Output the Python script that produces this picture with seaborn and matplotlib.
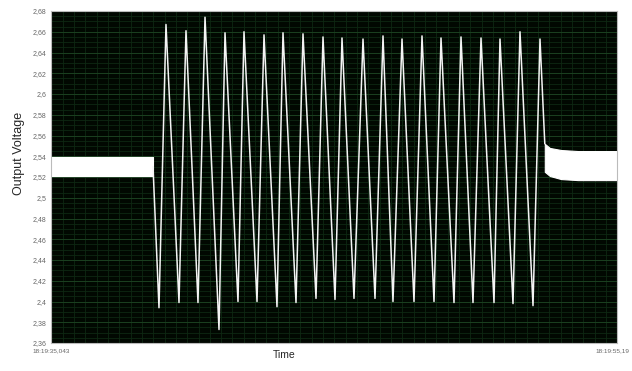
import numpy as np
import pandas as pd
import matplotlib
matplotlib.use("Agg")
import matplotlib.pyplot as plt
import matplotlib.transforms as mtransforms
import seaborn as sns
from matplotlib.ticker import MultipleLocator

# time axis (seconds past 18:19)
t_start = 35.043
t_end = 55.19

# noisy baseline before the pulses
left_band_t = [35.043, 38.674]
left_band_low = [2.5214, 2.5214]
left_band_high = [2.539, 2.539]

# noisy baseline after the pulses
right_band_t = [52.62, 52.80, 53.20, 53.80, 55.19]
right_band_low = [2.525, 2.521, 2.518, 2.517, 2.517]
right_band_high = [2.552, 2.548, 2.546, 2.545, 2.545]

# pulse train: troughs and peaks
trough_t = [38.887, 39.599, 40.275, 41.023, 41.699, 42.376, 43.087, 43.764, 44.476, 45.152,
            45.828, 46.576, 47.216, 47.964, 48.676, 49.388, 50.064, 50.812, 51.488, 52.200]
trough_v = [2.394, 2.399, 2.399, 2.373, 2.400, 2.400, 2.395, 2.399, 2.403, 2.402,
            2.403, 2.403, 2.400, 2.400, 2.400, 2.399, 2.399, 2.399, 2.398, 2.396]
peak_t = [39.136, 39.848, 40.525, 41.237, 41.913, 42.625, 43.301, 44.013, 44.725, 45.401,
          46.149, 46.861, 47.537, 48.249, 48.925, 49.637, 50.349, 51.025, 51.737, 52.449]
peak_v = [2.667, 2.661, 2.674, 2.659, 2.660, 2.657, 2.659, 2.658, 2.655, 2.654,
          2.653, 2.656, 2.653, 2.656, 2.654, 2.655, 2.654, 2.653, 2.660, 2.653]

yticks = [2.36, 2.38, 2.4, 2.42, 2.44, 2.46, 2.48, 2.5, 2.52, 2.54, 2.56, 2.58, 2.6, 2.62, 2.64, 2.66, 2.68]
ytick_labels = ["2,36", "2,38", "2,4", "2,42", "2,44", "2,46", "2,48", "2,5", "2,52", "2,54",
                "2,56", "2,58", "2,6", "2,62", "2,64", "2,66", "2,68"]
xtick_labels = ["18:19:35,043", "18:19:55,19"]

# assemble the trace in time order
tt = [left_band_t[-1]]
vv = [2.53]
for i in range(len(peak_t)):
    tt += [trough_t[i], peak_t[i]]
    vv += [trough_v[i], peak_v[i]]
tt.append(right_band_t[0])
vv.append(right_band_high[0])
trace = pd.DataFrame({"t": tt, "v": vv})

sns.set_style("white")
plt.rcParams["font.family"] = ["Liberation Sans", "DejaVu Sans"]
fig = plt.figure(figsize=(6.32, 3.71), dpi=100)
ax = fig.add_axes([51 / 632, 1 - 343 / 371, 566 / 632, 332 / 371])
ax.set_facecolor("#010801")

# grid
ax.yaxis.set_minor_locator(MultipleLocator(0.005))
ax.xaxis.set_minor_locator(MultipleLocator((t_end - t_start) / 50))
ax.grid(which="major", axis="y", color="#1b4020", lw=0.7)
ax.grid(which="minor", color="#0e2812", lw=0.6)
ax.set_axisbelow(True)

ax.fill_between(left_band_t, left_band_low, left_band_high, color="white", lw=0.8, edgecolor="white")
ax.fill_between(right_band_t, right_band_low, right_band_high, color="white", lw=0.8, edgecolor="white")
sns.lineplot(data=trace, x="t", y="v", sort=False, color="#f4f4f4", lw=1.1, ax=ax)

ax.set_xlim(t_start, t_end)
ax.set_ylim(2.36, 2.68)
ax.set_yticks(yticks)
ax.set_yticklabels(ytick_labels)
ax.set_xticks([t_start, t_end])
ax.set_xticklabels(xtick_labels)
ax.tick_params(axis="both", which="major", labelsize=5, colors="#666666", length=2, width=0.5, pad=1)
ax.tick_params(axis="both", which="minor", length=0)
ax.tick_params(axis="x", labelsize=4.6, pad=2)
# nudge the right-hand time label inside the figure
rlab = ax.get_xticklabels()[1]
rlab.set_transform(rlab.get_transform() + mtransforms.ScaledTranslation(-5 / 100, 0, fig.dpi_scale_trans))
for s in ax.spines.values():
    s.set_color("#bbbbbb")
    s.set_linewidth(0.8)

ax.set_xlabel("Time", fontsize=7.5)
ax.xaxis.set_label_coords(0.412, -0.036, transform=ax.transAxes)
ax.xaxis.label.set_va("center")
ax.set_ylabel("Output Voltage", fontsize=9)
ax.yaxis.set_label_coords(-0.057, 0.571, transform=ax.transAxes)
ax.yaxis.label.set_va("center")

fig.savefig("out.png", dpi=100)
